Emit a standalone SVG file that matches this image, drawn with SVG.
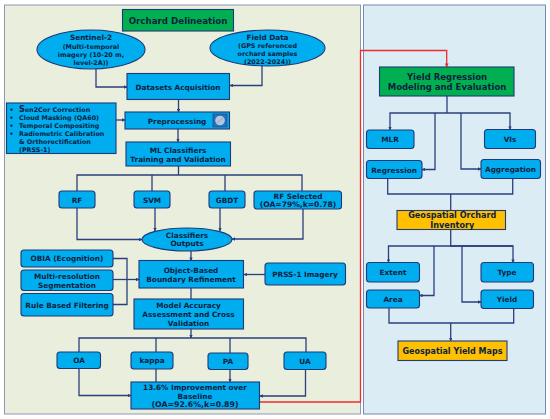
<svg xmlns="http://www.w3.org/2000/svg" width="550" height="419" viewBox="0 0 550 419">
<style>
text{font-family:"DejaVu Sans",Verdana,sans-serif;font-weight:700;fill:#0b1f3f;text-anchor:middle;font-size:7.300px}
.b{fill:#00adef;stroke:#1f3a78;stroke-width:1.100}
.g{fill:#00b050;stroke:#1f3a78;stroke-width:1.100}
.y{fill:#ffc000;stroke:#1f3a78;stroke-width:1.100}
.c{fill:none;stroke:#2a3f7e;stroke-width:1.300}
.a{fill:none;stroke:#2a3f7e;stroke-width:1.300;marker-end:url(#m)}
.r{fill:none;stroke:#ee2c2c;stroke-width:1.300}
.l{text-anchor:start;font-size:6.400px}
.s{font-size:6.400px}
</style>
<defs>
<marker id="m" viewBox="0 0 6 6" refX="5.500" refY="3" markerWidth="2.600" markerHeight="2.600" orient="auto" markerUnits="strokeWidth"><path d="M0 0L6 3L0 6z" fill="#2a3f7e"/></marker>
<marker id="mr" viewBox="0 0 6 6" refX="5.500" refY="3" markerWidth="3" markerHeight="3" orient="auto" markerUnits="strokeWidth"><path d="M0 0L6 3L0 6z" fill="#ee2c2c"/></marker>
</defs>
<rect width="550" height="419" fill="#fff"/>
<rect id="panel-left" x="4.500" y="5" width="356" height="409" fill="#e9efdc" stroke="#8c98b8"/>
<rect id="panel-right" x="363.500" y="5" width="182" height="409" fill="#dcecf5" stroke="#7488b0"/>
<g id="connectors">
<path class="a" d="M96 67V87H127"/>
<path class="a" d="M262 65V85.500H230"/>
<path class="a" d="M178.500 100V112"/>
<path class="a" d="M178 129V142"/>
<path class="a" d="M116 120H125"/>
<path class="c" d="M178.500 166V175M77 191V175H302V191M152 175V191M225 175V191"/>
<path class="a" d="M77 208V239.500H142"/>
<path class="a" d="M155 208V231"/>
<path class="a" d="M220 208V231"/>
<path class="a" d="M303 209V239H232"/>
<path class="a" d="M191 251V260.500"/>
<path class="c" d="M191 288V299"/>
<path class="c" d="M113 258.500H127V304.500H113"/>
<path class="a" d="M113 279.500H139"/>
<path class="a" d="M265 274.500H244"/>
<path class="a" d="M191 329V338"/>
<path class="c" d="M79 352V338H306V352M156 338V352M230 338V353"/>
<path class="a" d="M79 368V395.500H131"/>
<path class="c" d="M156 369V382"/>
<path class="a" d="M230 369V382"/>
<path class="a" d="M305.500 369V396H260"/>
<path class="r" d="M259.500 402H360.500V50.500H446.700V67" marker-end="url(#mr)"/>
<path class="c" d="M447 96V113"/>
<path class="a" d="M447 113H390V130"/>
<path class="a" d="M447 113H510V129.500"/>
<path class="a" d="M435 113V169.500H422"/>
<path class="a" d="M461 113V169H481"/>
<path class="c" d="M387.700 178.500V194H512.700V178.500"/>
<path class="c" d="M450.700 194V210.500"/>
<path class="c" d="M450.700 229.500V246"/>
<path class="a" d="M513 246H388.500V262.500"/>
<path class="a" d="M450 246H513V262.500"/>
<path class="a" d="M434 246V295.500H419.500"/>
<path class="a" d="M462 246V302H481"/>
<path class="c" d="M389 308V323H513.700V308"/>
<path class="a" d="M450.700 323V341"/>
</g>
<g id="orchard-delineation"><rect class="g" x="122.500" y="9.500" width="111" height="21.500"/><text x="178" y="23.500" style="font-size:8.700px">Orchard Delineation</text></g>
<g id="sentinel"><ellipse class="b" cx="91" cy="49.500" rx="54" ry="19.500"/><text x="91" y="40">Sentinel-2</text><text class="s" x="91" y="48.500">(Multi-temporal</text><text class="s" x="91" y="56.500">imagery (10-20 m,</text><text class="s" x="91" y="64.500">level-2A))</text></g>
<g id="field-data"><ellipse class="b" cx="267.500" cy="48" rx="57.500" ry="18"/><text x="267.500" y="39.500">Field Data</text><text class="s" x="267.500" y="47.500">(GPS referenced</text><text class="s" x="267.500" y="55.500">orchard samples</text><text class="s" x="267.500" y="63.500">(2022-2024))</text></g>
<g id="datasets"><rect class="b" x="127" y="73.500" width="102.500" height="26"/><text x="178" y="89.500">Datasets Acquisition</text></g>
<g id="list"><rect class="b" x="6.500" y="103" width="109.500" height="50.500"/>
<text class="l" x="9.500" y="111.500">•</text><text class="l" x="19" y="111.500"><tspan style="font-size:8px">S</tspan>en2Cor Correction</text>
<text class="l" x="9.500" y="119.500">•</text><text class="l" x="19" y="119.500">Cloud Masking (QA60)</text>
<text class="l" x="9.500" y="127.500">•</text><text class="l" x="19" y="127.500">Temporal Compositing</text>
<text class="l" x="9.500" y="135.500">•</text><text class="l" x="19" y="135.500">Radiometric Calibration</text>
<text class="l" x="19" y="143.500">&amp; Orthorectification</text>
<text class="l" x="19" y="151.500">(PRSS-1)</text></g>
<g id="preprocessing"><rect class="b" x="125" y="112" width="104.500" height="17"/><text x="177" y="123.500">Preprocessing</text><rect x="213" y="114" width="14" height="13" fill="#2a6fb5" stroke="#1f3a78" stroke-width=".6"/><circle cx="220" cy="120.500" r="4.800" fill="#a9c8ee"/><path d="M216 124l8-7" stroke="#e08a3c" stroke-width=".8"/></g>
<g id="ml"><rect class="b" x="126" y="142" width="104.500" height="24"/><text x="178" y="152.500">ML Classifiers</text><text x="178" y="161.500">Training and Validation</text></g>
<g id="rf"><rect class="b" x="59" y="191" width="36" height="17" rx="3"/><text x="77" y="202.500">RF</text></g>
<g id="svm"><rect class="b" x="134" y="191" width="36" height="17" rx="3"/><text x="152" y="202.500">SVM</text></g>
<g id="gbdt"><rect class="b" x="209" y="191" width="36" height="17" rx="3"/><text x="227" y="202.500">GBDT</text></g>
<g id="rf-selected"><rect class="b" x="254" y="191" width="87.500" height="18" rx="3"/><text x="298" y="198.500">RF Selected</text><text x="298" y="207" style="font-size:7.600px">(OA=79%,k=0.78)</text></g>
<g id="classifiers"><ellipse class="b" cx="187" cy="239.500" rx="45" ry="11.500"/><text x="187" y="237.500">Classifiers</text><text x="187" y="246">Outputs</text></g>
<g id="obia"><rect class="b" x="21" y="250" width="92" height="17" rx="3"/><text x="67" y="261">OBIA (Ecognition)</text></g>
<g id="multi"><rect class="b" x="21" y="270" width="92" height="20.500" rx="3"/><text x="67" y="278.500">Multi-resolution</text><text x="67" y="287.500">Segmentation</text></g>
<g id="rule"><rect class="b" x="21" y="293.500" width="92" height="22.500" rx="3"/><text x="67" y="307.500">Rule Based Filtering</text></g>
<g id="obbr"><rect class="b" x="139" y="260.500" width="104.500" height="27.500"/><text x="191" y="272.500">Object-Based</text><text x="191" y="281.500">Boundary Refinement</text></g>
<g id="prss"><rect class="b" x="265" y="263" width="80.500" height="22" rx="3"/><text x="305" y="277">PRSS-1 Imagery</text></g>
<g id="model"><rect class="b" x="134" y="299" width="109.500" height="30"/><text x="188.500" y="307.500">Model Accuracy</text><text x="188.500" y="316.500">Assessment and Cross</text><text x="188.500" y="325.500">Validation</text></g>
<g id="oa"><rect class="b" x="57" y="352" width="43.500" height="16.500" rx="3"/><text x="79" y="363">OA</text></g>
<g id="kappa"><rect class="b" x="131" y="352" width="42" height="17" rx="3"/><text x="152" y="363">kappa</text></g>
<g id="pa"><rect class="b" x="208" y="353" width="40" height="16.500" rx="3"/><text x="228" y="364">PA</text></g>
<g id="ua"><rect class="b" x="284" y="352" width="42" height="17.500" rx="3"/><text x="305" y="364">UA</text></g>
<g id="improvement"><rect class="b" x="131" y="382" width="128.500" height="27"/><text x="195" y="389.500">13.6% Improvement over</text><text x="195" y="398.500">Baseline</text><text x="195" y="407" style="font-size:7.800px">(OA=92.6%,k=0.89)</text></g>
<g id="yield-reg"><rect class="g" x="379.500" y="67" width="134.500" height="29"/><text x="447" y="79.500" style="font-size:8.500px">Yield Regression</text><text x="447" y="90" style="font-size:8.500px">Modeling and Evaluation</text></g>
<g id="mlr"><rect class="b" x="366.500" y="130" width="47.500" height="18.500" rx="3"/><text x="390" y="142">MLR</text></g>
<g id="vis"><rect class="b" x="484.500" y="129.500" width="51" height="19" rx="3"/><text x="510" y="142">VIs</text></g>
<g id="regression"><rect class="b" x="366.500" y="160.500" width="55.500" height="18" rx="3"/><text x="394" y="172.500">Regression</text></g>
<g id="aggregation"><rect class="b" x="481" y="159.500" width="59.500" height="19" rx="3"/><text x="510.500" y="172">Aggregation</text></g>
<g id="inventory"><rect class="y" x="397" y="210.500" width="108.500" height="19"/><text x="452.300" y="218" style="font-size:8.100px">Geospatial Orchard</text><text x="452.300" y="228" style="font-size:8.100px">Inventory</text></g>
<g id="extent"><rect class="b" x="366.500" y="262.500" width="53" height="19.500" rx="3"/><text x="393" y="275">Extent</text></g>
<g id="type"><rect class="b" x="481" y="262.500" width="52.500" height="19.500" rx="3"/><text x="507" y="275">Type</text></g>
<g id="area"><rect class="b" x="366.500" y="290" width="53" height="18" rx="3"/><text x="393" y="302">Area</text></g>
<g id="yield"><rect class="b" x="481" y="290" width="52.500" height="18.500" rx="3"/><text x="507" y="302">Yield</text></g>
<g id="maps"><rect class="y" x="398" y="341" width="109" height="19.500"/><text x="452.500" y="354" style="font-size:8px">Geospatial Yield Maps</text></g>
</svg>
